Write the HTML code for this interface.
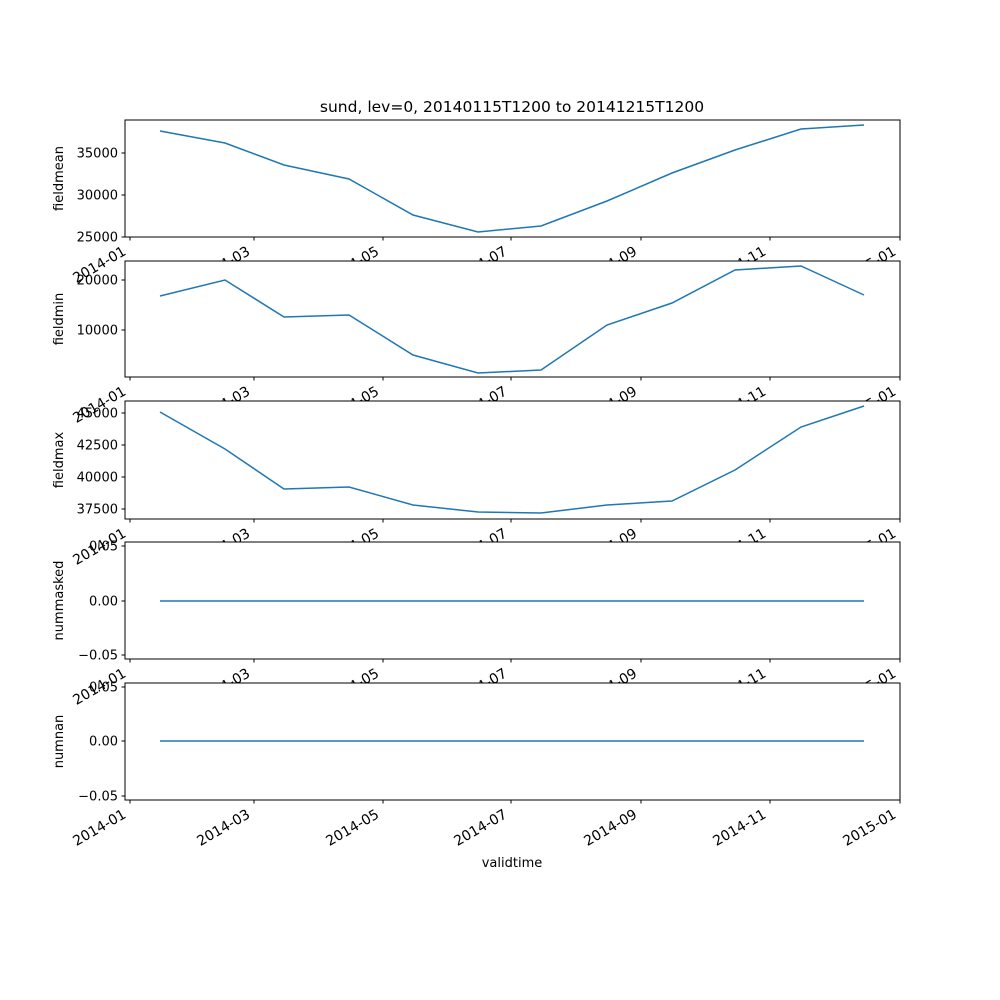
<!DOCTYPE html>
<html><head><meta charset="utf-8"><style>body{margin:0;background:#fff}svg{display:block}text{font-family:"DejaVu Sans","Liberation Sans",sans-serif;font-size:13px;fill:#000}</style></head>
<body>
<svg id="s" width="1000" height="1000" xmlns="http://www.w3.org/2000/svg">
<text x="512" y="112" text-anchor="middle" style="font-size:15.5px">sund, lev=0, 20140115T1200 to 20141215T1200</text>
<text x="512" y="867" text-anchor="middle">validtime</text>
</svg>
<script>
const s=document.getElementById('s');const ns='http://www.w3.org/2000/svg';
function el(t,a,txt){const e=document.createElementNS(ns,t);for(const k in a)e.setAttribute(k,a[k]);if(txt!==undefined)e.textContent=txt;s.appendChild(e);return e;}
const xs=[160,225,284,349,413,478,541,607,672,735,801,864];
const xt=[[130,'2014-01'],[254,'2014-03'],[383,'2014-05'],[511,'2014-07'],[641,'2014-09'],[770,'2014-11'],[900,'2015-01']];
const panels=[
 {t:120,b:237,lab:'fieldmean',y:[131,143,165,179,215,232,226,201,173,150,129,125],ticks:[[153,'35000'],[195,'30000'],[237,'25000']]},
 {t:261,b:377,lab:'fieldmin',y:[296,280,317,315,355,373,370,325,303,270,266,295],ticks:[[280,'20000'],[330,'10000']]},
 {t:401,b:519,lab:'fieldmax',y:[412,449,489,487,505,512,513,505,501,470,427,406],ticks:[[413,'45000'],[445,'42500'],[477,'40000'],[509,'37500']]},
 {t:542,b:659,lab:'nummasked',y:xs.map(()=>601),ticks:[[546,'0.05'],[601,'0.00'],[655,'\u22120.05']]},
 {t:683,b:800,lab:'numnan',y:xs.map(()=>741),ticks:[[687,'0.05'],[741,'0.00'],[796,'\u22120.05']]}];
panels.forEach(p=>{
 el('rect',{x:125,y:p.t,width:775,height:p.b-p.t,fill:'#fff',stroke:'#000','stroke-width':1});
 el('polyline',{points:xs.map((x,i)=>x+','+p.y[i]).join(' '),fill:'none',stroke:'#1f77b4','stroke-width':1.5});
 p.ticks.forEach(([y,l])=>{el('line',{x1:121.5,x2:125,y1:y,y2:y,stroke:'#000'});el('text',{x:118,y:y+4.5,'text-anchor':'end'},l);});
 el('text',{transform:`translate(63,${(p.t+p.b)/2}) rotate(-90)`,'text-anchor':'middle'},p.lab);
 xt.forEach(([x,l])=>{el('line',{x1:x,x2:x,y1:p.b,y2:p.b+3.5,stroke:'#000'});el('text',{transform:`translate(${x-3},${p.b+17}) rotate(-30)`,'text-anchor':'end',style:'font-size:14px'},l);});
});
</script>
</body></html>
